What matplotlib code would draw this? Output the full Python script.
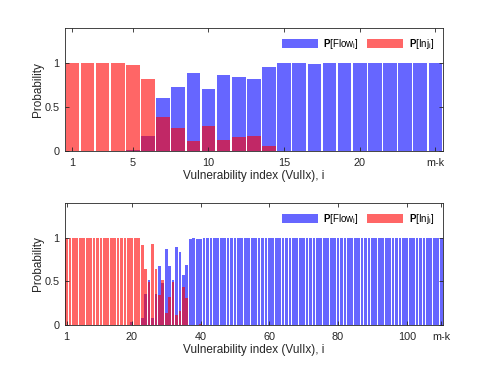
import numpy as np
import matplotlib
matplotlib.use("Agg")
import matplotlib.pyplot as plt

plt.rcParams['font.family'] = ['Liberation Sans', 'DejaVu Sans']
plt.rcParams['mathtext.fontset'] = 'custom'
plt.rcParams['mathtext.rm'] = 'Liberation Sans'
plt.rcParams['mathtext.bf'] = 'Liberation Sans:bold'
plt.rcParams['mathtext.it'] = 'Liberation Sans:italic'

# Top panel data (25 vulnerabilities)
flow_top = [0, 0, 0, 0, 0.01, 0.17, 0.60, 0.73, 0.89, 0.71, 0.86, 0.84, 0.82, 0.95,
            1, 1, 0.99, 1, 1, 1, 1, 1, 1, 1, 1]
inj_top = [1, 1, 1, 1, 0.98, 0.82, 0.39, 0.26, 0.11, 0.28, 0.12, 0.16, 0.17, 0.05,
           0, 0, 0, 0, 0, 0, 0, 0, 0, 0, 0]
ticks_top = [1, 5, 10, 15, 20, 25]
labels_top = ['1', '5', '10', '15', '20', 'm-k']

# Bottom panel data (110 vulnerabilities)
flow_mid = [0.08, 0.36, 0.51, 0.08, 0.36, 0.67, 0.48, 0.87, 0.68, 0.52, 0.89, 0.84,
            0.57, 0.69, 0.99, 1.0, 0.99, 0.99]
inj_mid = [0.92, 0.64, 0.49, 0.93, 0.64, 0.34, 0.52, 0.14, 0.32, 0.49, 0.11, 0.16,
           0.43, 0.31, 0.0, 0.0, 0.0, 0.01]
flow_bot = [0] * 19 + [0.03, 0, 0] + flow_mid + [1.0] * 70
inj_bot = [1.0] * 22 + inj_mid + [0] * 70
ticks_bot = [1, 20, 40, 60, 80, 100, 110]
labels_bot = ['1', '20', '40', '60', '80', '100', 'm-k']

txt = '#262626'
fig = plt.figure(figsize=(4.91, 3.68), dpi=100)
ax1 = fig.add_axes([0.132, 0.590, 0.770, 0.334])
ax2 = fig.add_axes([0.132, 0.117, 0.770, 0.332])

for ax, flow, inj, ticks, labels, w in [(ax1, flow_top, inj_top, ticks_top, labels_top, 0.9),
                                        (ax2, flow_bot, inj_bot, ticks_bot, labels_bot, 0.8)]:
    x = np.arange(1, len(flow) + 1)
    ax.bar(x, flow, width=w, color='blue', alpha=0.6, edgecolor='none',
           label=r'$\mathbf{P}$[Flow$_\mathrm{i}$]')
    ax.bar(x, inj, width=w, color='red', alpha=0.6, edgecolor='none',
           label=r'$\mathbf{P}$[Inj$_\mathrm{i}$]')
    ax.set_xlim(0.5, len(flow) + 0.5)
    ax.set_ylim(0, 1.4)
    ax.set_xticks(ticks)
    ax.set_xticklabels(labels)
    ax.set_yticks([0, 0.5, 1])
    ax.set_yticklabels(['0', '0.5', '1'])
    ax.tick_params(direction='in', top=True, right=True, length=3, width=0.6,
                   labelsize=7.8, colors=txt, pad=4)
    ax.tick_params(axis='x', pad=5)
    for s in ax.spines.values():
        s.set_color(txt)
        s.set_linewidth(0.6)
    ax.set_xlabel('Vulnerability index (VulIx), i', fontsize=8.5, color=txt, labelpad=1.5)
    ax.set_ylabel('Probability', fontsize=8.5, color=txt, labelpad=0)
    ax.legend(loc='upper right', ncol=2, frameon=False, fontsize=7,
              handlelength=3.7, handleheight=1.1, columnspacing=0.8,
              handletextpad=0.6, borderaxespad=0.5)

plt.savefig('out.png', dpi=100)
